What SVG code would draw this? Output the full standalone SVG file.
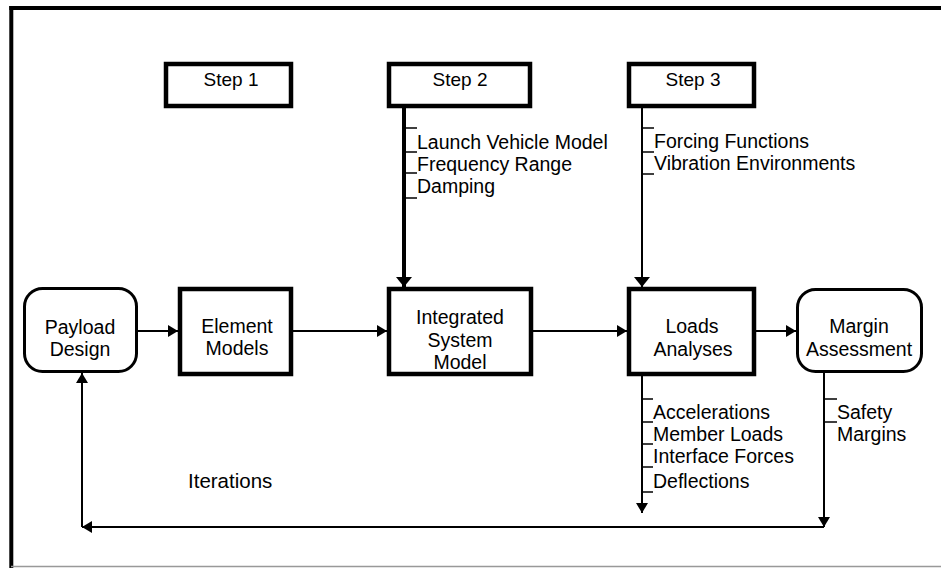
<svg xmlns="http://www.w3.org/2000/svg" width="941" height="568" viewBox="0 0 941 568">
<style>
text{font-family:"Liberation Sans",Arial,sans-serif;font-size:19.5px;fill:#000}
.c{text-anchor:middle}
.box{fill:#fff;stroke:#000;stroke-width:4.5}
.rbox{fill:#fff;stroke:#000;stroke-width:3}
.ln{fill:none;stroke:#000;stroke-width:2}
.tk{fill:none;stroke:#000;stroke-width:1.5}
</style>
<defs>
<marker id="ah" viewBox="0 0 10 12" refX="10" refY="6" markerWidth="10" markerHeight="12" orient="auto" markerUnits="userSpaceOnUse">
<path d="M0,0 L10,6 L0,12 z" fill="#000"/>
</marker>
<marker id="ahb" viewBox="0 0 10 16" refX="10" refY="8" markerWidth="10" markerHeight="16" orient="auto" markerUnits="userSpaceOnUse">
<path d="M0,0 L10,8 L0,16 z" fill="#000"/>
</marker>
</defs>
<rect width="941" height="568" fill="#fff"/>
<g id="frame">
<line x1="9.3" y1="8" x2="941" y2="8" stroke="#000" stroke-width="4"/>
<line x1="11.3" y1="6" x2="11.3" y2="568" stroke="#000" stroke-width="4"/>
<line x1="11" y1="566.5" x2="941" y2="566.5" stroke="#999" stroke-width="1.5"/>
</g>
<g id="connectors">
<path class="ln" d="M138,331 H178" marker-end="url(#ah)"/>
<path class="ln" d="M293,331 H387" marker-end="url(#ah)"/>
<path class="ln" d="M533,331 H627" marker-end="url(#ah)"/>
<path class="ln" d="M756,331 H796" marker-end="url(#ah)"/>
<path class="ln" d="M404,108 V287" style="stroke-width:4" marker-end="url(#ahb)"/>
<path class="ln" d="M642,108 V287" marker-end="url(#ahb)"/>
<path class="ln" d="M642,376 V513" marker-end="url(#ah)"/>
<path class="ln" d="M824,373 V527" marker-end="url(#ah)"/>
<path class="ln" d="M824,527 H82" marker-end="url(#ah)"/>
<path class="ln" d="M82,527 V373" marker-end="url(#ah)"/>
<path class="tk" d="M404,128 H417 M404,152 H417 M404,173 H417 M404,198 H417"/>
<path class="tk" d="M642,128 H654 M642,152 H654 M642,174 H654"/>
<path class="tk" d="M642,399 H653 M642,422 H653 M642,444 H653 M642,467 H653 M642,492 H653"/>
<path class="tk" d="M824,399 H837 M824,422 H837"/>
</g>
<g id="step1">
<rect class="box" x="166" y="64" width="125" height="42"/>
<text class="c" x="231" y="86" style="font-size:19px">Step 1</text>
</g>
<g id="step2">
<rect class="box" x="389" y="64" width="141" height="42"/>
<text class="c" x="460" y="86" style="font-size:19px">Step 2</text>
</g>
<g id="step3">
<rect class="box" x="629" y="64" width="125" height="42"/>
<text class="c" x="693" y="86" style="font-size:19px">Step 3</text>
</g>
<g id="step2-inputs">
<text x="417" y="149">Launch Vehicle Model</text>
<text x="417" y="171">Frequency Range</text>
<text x="417" y="193">Damping</text>
</g>
<g id="step3-inputs">
<text x="654" y="148">Forcing Functions</text>
<text x="654" y="170">Vibration Environments</text>
</g>
<g id="payload-design">
<rect class="rbox" x="24.5" y="288.5" width="112" height="83" rx="18"/>
<text class="c" x="80" y="334">Payload</text>
<text class="c" x="80" y="356">Design</text>
</g>
<g id="element-models">
<rect class="box" x="180" y="289" width="111" height="85"/>
<text class="c" x="237" y="333">Element</text>
<text class="c" x="237" y="355">Models</text>
</g>
<g id="integrated-system-model">
<rect class="box" x="389" y="289" width="142" height="85"/>
<text class="c" x="460" y="324">Integrated</text>
<text class="c" x="460" y="347">System</text>
<text class="c" x="460" y="369">Model</text>
</g>
<g id="loads-analyses">
<rect class="box" x="629" y="289" width="125" height="85"/>
<text class="c" x="692" y="333">Loads</text>
<text class="c" x="693" y="356">Analyses</text>
</g>
<g id="margin-assessment">
<rect class="rbox" x="797.5" y="289.5" width="124" height="82" rx="18"/>
<text class="c" x="859" y="333">Margin</text>
<text class="c" x="859" y="356">Assessment</text>
</g>
<g id="loads-outputs">
<text x="653" y="419">Accelerations</text>
<text x="653" y="441">Member Loads</text>
<text x="653" y="463">Interface Forces</text>
<text x="653" y="488">Deflections</text>
</g>
<g id="margin-outputs">
<text x="837" y="419">Safety</text>
<text x="837" y="441">Margins</text>
</g>
<g id="iterations">
<text x="188" y="488" style="font-size:20.5px">Iterations</text>
</g>
</svg>
